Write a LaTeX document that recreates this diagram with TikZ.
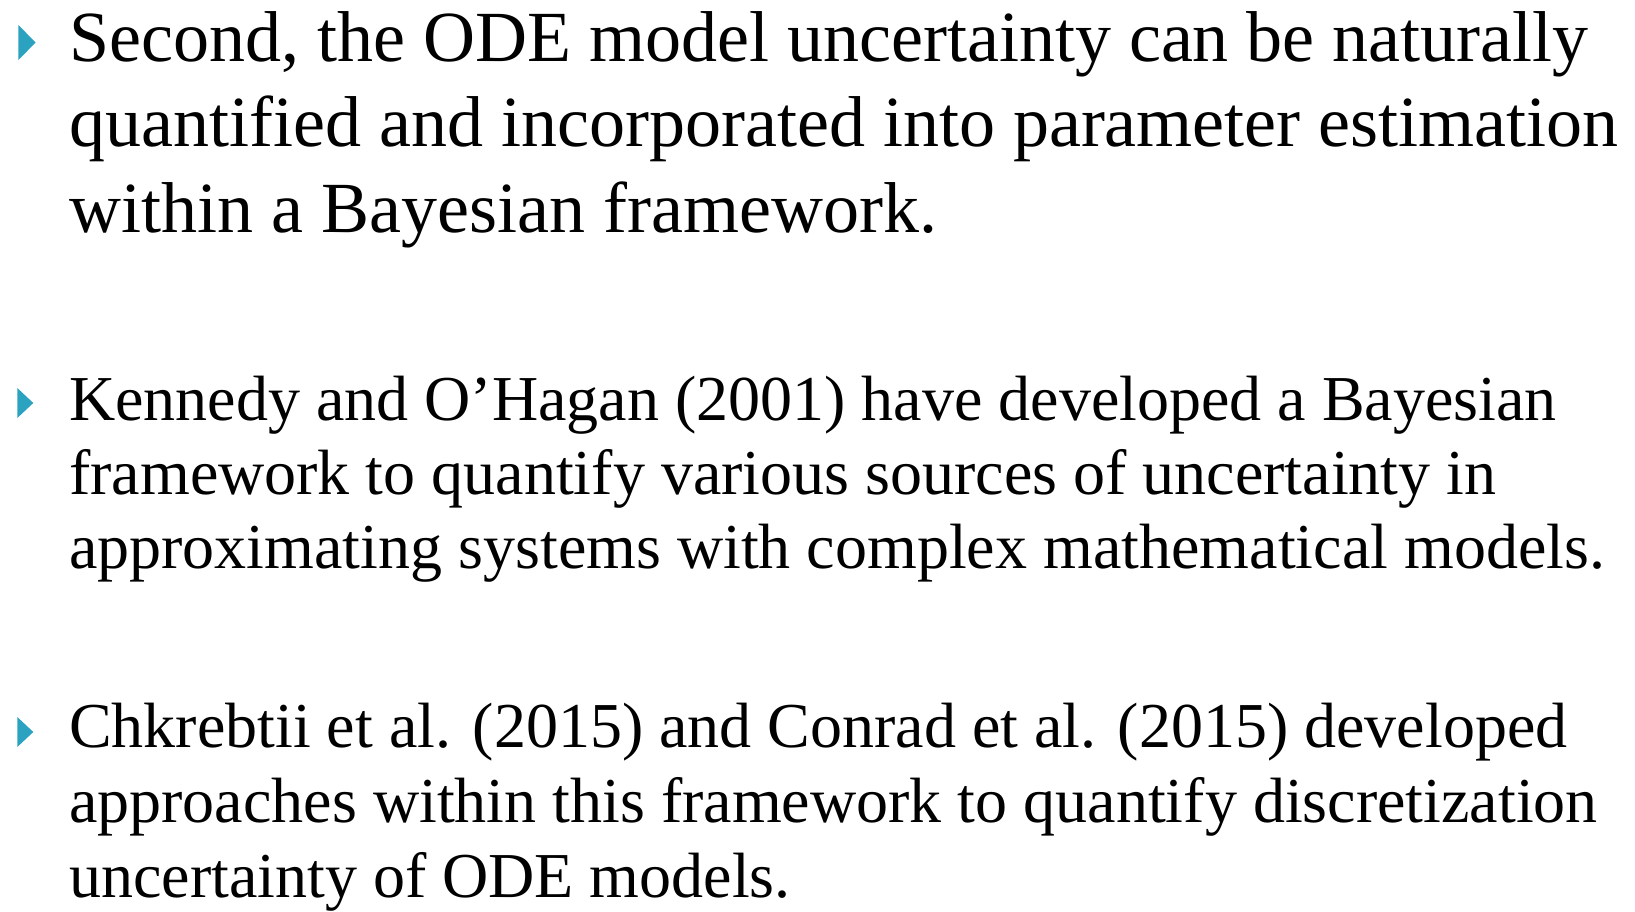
\documentclass[tikz,border=0pt]{standalone}
\usepackage{fontspec}
\setmainfont{Liberation Serif}
\definecolor{bulletblue}{RGB}{43,163,192}
\begin{document}
\begin{tikzpicture}[x=1pt,y=-1pt,
  bigline/.style={anchor=base west, inner sep=0pt, font=\fontsize{72}{85}\selectfont},
  smallline/.style={anchor=base west, inner sep=0pt, font=\fontsize{64}{75}\selectfont},
  bulletmark/.style={fill=bulletblue}]
\fill[white] (0,0) rectangle (1635,911);
\useasboundingbox (0,0) rectangle (1635,911);
% bullets
\fill[bulletmark] (18.3,25) -- (35.7,42.5) -- (18.3,60) -- cycle;
\fill[bulletmark] (17.3,388) -- (33.3,403) -- (17.3,418) -- cycle;
\fill[bulletmark] (17.3,717) -- (33.3,732) -- (17.3,747) -- cycle;
% paragraph 1
\node[bigline] (p1a) at (69,61) {Second, the ODE model uncertainty can be naturally};
\node[bigline] (p1b) at (69,146) {quantified and incorporated into parameter estimation};
\node[bigline] (p1c) at (69,232) {within a Bayesian framework.};
% paragraph 2
\node[smallline] (p2a) at (69,420) {Kennedy and O’Hagan (2001) have developed a Bayesian};
\node[smallline] (p2b) at (69,494) {framework to quantify various sources of uncertainty in};
\node[smallline] (p2c) at (69,568) {approximating systems with complex mathematical models.};
% paragraph 3
\node[smallline] (p3a) at (69,747) {Chkrebtii et al. (2015) and Conrad et al. (2015) developed};
\node[smallline] (p3b) at (69,822) {approaches within this framework to quantify discretization};
\node[smallline] (p3c) at (69,897) {uncertainty of ODE models.};
\end{tikzpicture}
\end{document}
